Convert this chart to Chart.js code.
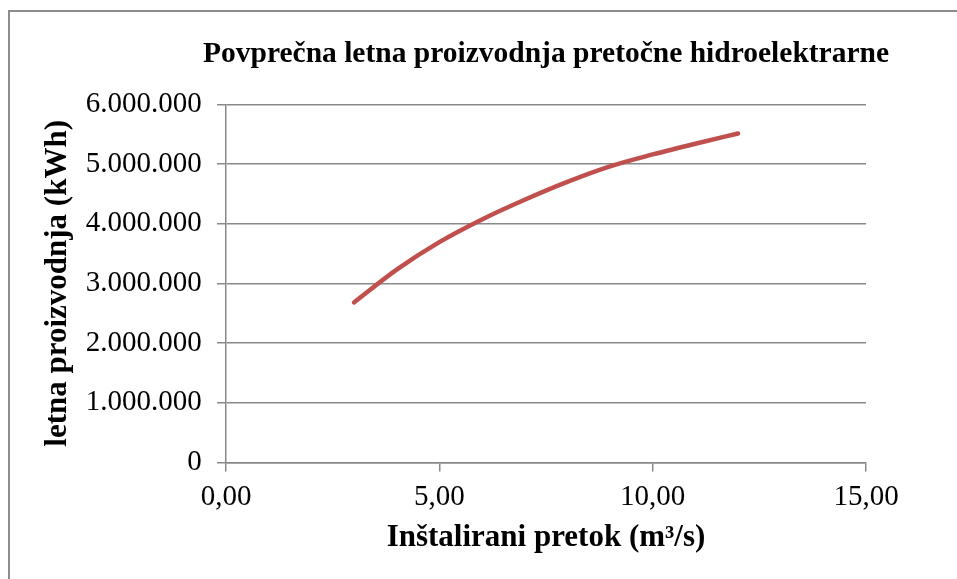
<!DOCTYPE html>
<html>
<head>
<meta charset="utf-8">
<script src="https://cdn.jsdelivr.net/npm/chart.js@4"></script>
<style>
  html, body { margin: 0; padding: 0; background: #ffffff; }
  #wrap { position: relative; width: 957px; height: 579px; }
</style>
</head>
<body>
<div id="wrap"><canvas id="c" width="957" height="579"></canvas></div>
<script>
// ---- data ----
const chartTitle = 'Povprečna letna proizvodnja pretočne hidroelektrarne';
const xAxisTitle = 'Inštalirani pretok (m³/s)';
const yAxisTitle = 'letna proizvodnja (kWh)';
const flowValues = [3, 4, 5, 6, 7, 8, 9, 10, 11, 12];           // m3/s
const productionValues = [2680000, 3230000, 3690000, 4070000, 4400000,
                          4700000, 4960000, 5160000, 5340000, 5510000]; // kWh
const xTicks = [0, 5, 10, 15];
const yTicks = [0, 1000000, 2000000, 3000000, 4000000, 5000000, 6000000];

const points = flowValues.map((x, i) => ({ x: x, y: productionValues[i] }));

function fmtThousands(v) {
  if (v === 0) return '0';
  return String(Math.round(v)).replace(/\B(?=(\d{3})+(?!\d))/g, '.');
}
function fmtDecimal(v) {
  return v.toFixed(2).replace('.', ',');
}

const GRID = '#898989';
const SERIF = "'Liberation Serif', 'Times New Roman', serif";

const frame = {
  id: 'frame',
  beforeDraw(chart) {
    const ctx = chart.ctx;
    ctx.save();
    ctx.fillStyle = '#ffffff';
    ctx.fillRect(0, 0, chart.width, chart.height);
    ctx.strokeStyle = '#8c8c8c';
    ctx.lineWidth = 2;
    ctx.strokeRect(9, 11, 2000, 2000);
    ctx.restore();
  }
};

// Title centred over the plot area (may extend beyond it, as in the reference)
const plotTitle = {
  id: 'plotTitle',
  afterDraw(chart) {
    const ctx = chart.ctx, a = chart.chartArea;
    ctx.save();
    ctx.fillStyle = '#000000';
    ctx.font = 'bold 29.5px ' + SERIF;
    ctx.textAlign = 'center';
    ctx.textBaseline = 'alphabetic';
    ctx.fillText(chartTitle, (a.left + a.right) / 2, 61.7);
    ctx.restore();
  }
};

new Chart(document.getElementById('c'), {
  type: 'scatter',
  data: {
    datasets: [{
      data: points,
      showLine: true,
      borderColor: '#C0504D',
      backgroundColor: '#C0504D',
      borderWidth: 4.5,
      borderCapStyle: 'round',
      borderJoinStyle: 'round',
      pointRadius: 0,
      pointHoverRadius: 0,
      cubicInterpolationMode: 'monotone',
      clip: false
    }]
  },
  options: {
    responsive: false,
    animation: false,
    events: [],
    layout: { padding: { top: 104.3, right: 91, bottom: 0, left: 0 } },
    plugins: {
      legend: { display: false },
      tooltip: { enabled: false },
      title: { display: false }
    },
    scales: {
      x: {
        type: 'linear',
        min: 0, max: 15,
        afterFit(s) { s.height = 579 - 462.4; },
        afterBuildTicks(s) { s.ticks = xTicks.map(v => ({ value: v })); },
        ticks: {
          color: '#000000',
          font: { family: SERIF, size: 29, lineHeight: 1.2 },
          padding: 8.8,
          maxRotation: 0,
          callback: v => fmtDecimal(v)
        },
        grid: { drawOnChartArea: false, drawTicks: true, tickLength: 9, color: GRID, lineWidth: 1.5 },
        border: { display: true, color: GRID, width: 1.5 },
        title: {
          display: true,
          text: xAxisTitle,
          color: '#000000',
          font: { family: SERIF, size: 31, weight: 'bold', lineHeight: 1.2 },
          padding: { top: 0, bottom: 22.9 }
        }
      },
      y: {
        type: 'linear',
        min: 0, max: 6000000,
        afterFit(s) { s.width = 226; },
        afterBuildTicks(s) { s.ticks = yTicks.map(v => ({ value: v })); },
        ticks: {
          color: '#000000',
          font: { family: SERIF, size: 29, lineHeight: 1.2 },
          padding: 15.3,
          callback: v => fmtThousands(v)
        },
        grid: { drawOnChartArea: true, drawTicks: true, tickLength: 9, color: GRID, lineWidth: 1.5 },
        border: { display: true, color: GRID, width: 1.5 },
        title: {
          display: true,
          text: yAxisTitle,
          color: '#000000',
          font: { family: SERIF, size: 31, weight: 'bold', lineHeight: 1.2 },
          padding: { top: 38.9, bottom: 0 }
        }
      }
    }
  },
  plugins: [frame, plotTitle]
});
</script>
</body>
</html>
